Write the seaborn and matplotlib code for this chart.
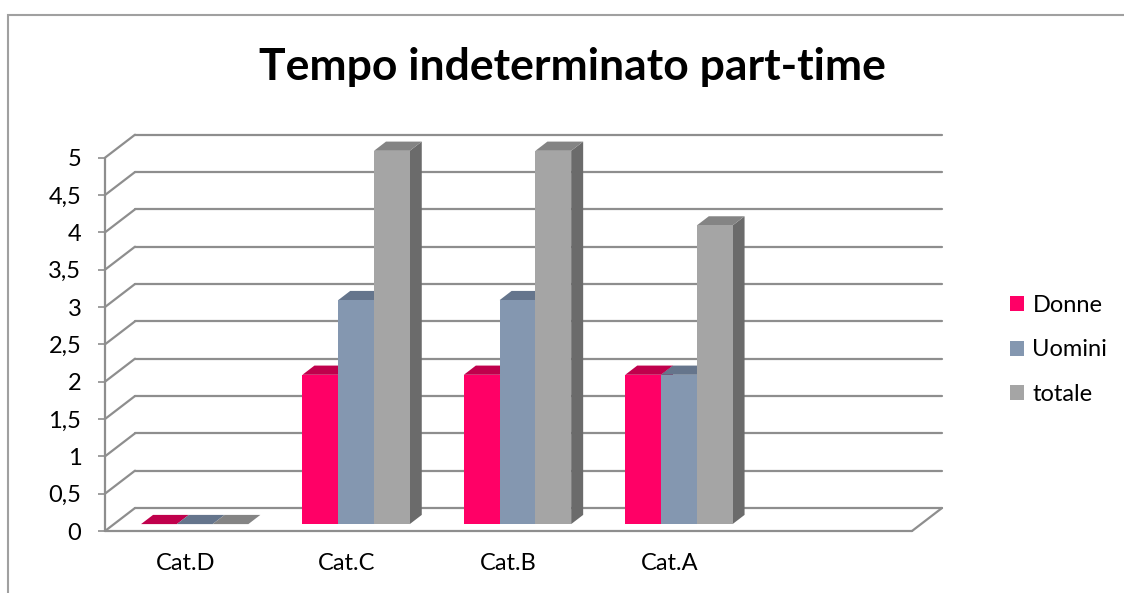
import numpy as np
import pandas as pd
import seaborn as sns
import matplotlib
matplotlib.use('Agg')
import matplotlib.pyplot as plt
from matplotlib import transforms
from matplotlib.patches import Polygon, Rectangle, Patch
from matplotlib.lines import Line2D

# data
categories = ['Cat.D', 'Cat.C', 'Cat.B', 'Cat.A']
series = ['Donne', 'Uomini', 'totale']
donne = [0, 2, 2, 2]
uomini = [0, 3, 3, 2]
totale = [0, 5, 5, 4]
yticks = [0, 0.5, 1, 1.5, 2, 2.5, 3, 3.5, 4, 4.5, 5]
ytick_labels = ['0', '0,5', '1', '1,5', '2', '2,5', '3', '3,5', '4', '4,5', '5']

front_cols = ['#FF0066', '#8497B0', '#A5A5A5']
top_cols = ['#C0004C', '#65758C', '#848484']
side_cols = ['#B0004A', '#5C6B80', '#6B6B6B']
grid_col = '#8E8E8E'

df = pd.DataFrame({
    'cat': categories * 3,
    'serie': ['Donne'] * 4 + ['Uomini'] * 4 + ['totale'] * 4,
    'val': donne + uomini + totale,
})

sns.set_style('white')
plt.rcParams['font.family'] = ['Lato', 'DejaVu Sans']
plt.rcParams['text.color'] = 'black'
plt.rcParams['xtick.color'] = 'black'
plt.rcParams['ytick.color'] = 'black'

W, H = 1124, 593
fig = plt.figure(figsize=(W / 100, H / 100), dpi=100)
ax = fig.add_axes([105 / W, (H - 531) / H, (912 - 105) / W, (531 - 157.7) / H])

sns.barplot(data=df, x='cat', y='val', hue='serie', order=categories,
            hue_order=series, palette=front_cols, saturation=1, width=0.665,
            ax=ax, legend=False, linewidth=0, zorder=3)

ax.set_xlim(-0.5, 4.5)
ax.set_ylim(0, 5)
for s in ax.spines.values():
    s.set_visible(False)
ax.set_xlabel('')
ax.set_ylabel('')
ax.set_yticks(yticks)
ax.set_yticklabels(ytick_labels, fontsize=17)
ax.set_xticks(range(len(categories)))
ax.set_xticklabels(categories, fontsize=17)
ax.tick_params(axis='y', length=5, width=1.2, color=grid_col, labelcolor='black',
               pad=12, left=True)
ax.tick_params(axis='x', length=0, pad=16, labelcolor='black')

# depth of the 3d box (pixels)
dx, dy = 30, 23
fx, fy = 0.3 * dx, 0.3 * dy
bx, by = 0.4 * dx, 0.4 * dy
ident = transforms.IdentityTransform()
back = transforms.offset_copy(ax.transData, fig=fig, x=dx, y=dy, units='dots')

# walls / grid
for y in yticks:
    ax.plot([-0.5, 4.5], [y, y], color=grid_col, lw=1.6, transform=back,
            zorder=1, clip_on=False)
    X, Y = ax.transData.transform((-0.5, y))
    ax.add_line(Line2D([X, X + dx], [Y, Y + dy], color=grid_col, lw=1.6,
                       transform=ident, zorder=1, clip_on=False))
ax.plot([-0.5, 4.5], [0, 0], color=grid_col, lw=1.6, zorder=1, clip_on=False)
ax.plot([-0.5, -0.5], [0, 5], color=grid_col, lw=1.6, zorder=1, clip_on=False)
X, Y = ax.transData.transform((4.5, 0))
ax.add_line(Line2D([X, X + dx], [Y, Y + dy], color=grid_col, lw=1.6,
                   transform=ident, zorder=1, clip_on=False))

# 3d bars
front = transforms.offset_copy(ax.transData, fig=fig, x=fx, y=fy, units='dots')
for k, cont in enumerate(ax.containers):
    for p in cont.patches:
        x0, w, h = p.get_x(), p.get_width(), p.get_height()
        X0, Y0 = ax.transData.transform((x0, 0))
        X1, Y1 = ax.transData.transform((x0 + w, h))
        X0, X1, Y0, Y1 = X0 + fx, X1 + fx, Y0 + fy, Y1 + fy
        p.set_transform(front)
        p.set_clip_on(False)
        top = Polygon([(X0, Y1), (X1, Y1), (X1 + bx, Y1 + by), (X0 + bx, Y1 + by)],
                      closed=True, facecolor=top_cols[k], edgecolor='none',
                      transform=ident, zorder=2, clip_on=False)
        side = Polygon([(X1, Y0), (X1 + bx, Y0 + by), (X1 + bx, Y1 + by), (X1, Y1)],
                       closed=True, facecolor=side_cols[k], edgecolor='none',
                       transform=ident, zorder=2, clip_on=False)
        ax.add_patch(side)
        ax.add_patch(top)

ax.set_xlim(-0.5, 4.5)
ax.set_ylim(0, 5)

handles = [Patch(facecolor=c, edgecolor='none') for c in front_cols]
fig.legend(handles, series, loc='center left', bbox_to_anchor=(1010 / W, (H - 350) / H),
           frameon=False, fontsize=17, handlelength=0.6, handleheight=0.6,
           handletextpad=0.35, labelspacing=1.0, borderpad=0, borderaxespad=0)

fig.text(572 / W, (H - 80) / H, 'Tempo indeterminato part-time', ha='center',
         va='baseline', fontsize=32, fontweight='bold', color='black')

fig.add_artist(Rectangle((8 / W, -0.1), 1.2, (H - 15) / H + 0.1, transform=fig.transFigure,
                         fill=False, edgecolor='#A0A0A0', lw=1.5))

fig.savefig('out.png', dpi=100)
